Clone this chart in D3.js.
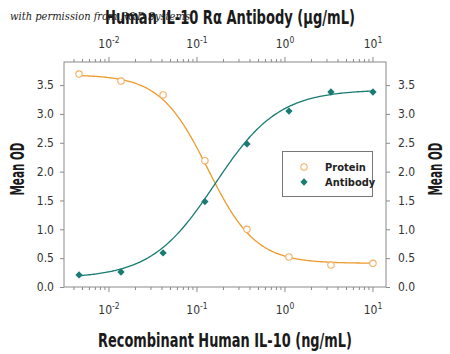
<!DOCTYPE html>
<html>
<head>
<meta charset="utf-8">
<script src="https://cdn.jsdelivr.net/npm/d3@7"></script>
<style>
  body { margin: 0; background: #fff; }
  svg { display: block; }
  text { font-family: "Liberation Sans Narrow", "DejaVu Sans Condensed", "Roboto Condensed", sans-serif; }
</style>
</head>
<body>
<svg id="chart" width="450" height="354"></svg>
<script>
// concentrations (ng/mL on bottom, ug/mL on top -- same tick positions)
const conc = [0.00457, 0.0137, 0.0412, 0.123, 0.370, 1.11, 3.33, 10];
const proteinOD = [3.69, 3.57, 3.33, 2.19, 1.00, 0.52, 0.38, 0.41];
const antibodyOD = [0.21, 0.26, 0.59, 1.48, 2.48, 3.05, 3.38, 3.38];
// 4PL fit: [bottom, top, ec50, hill]
const proteinFit = [0.41, 3.68, 0.133, 1.6];
const antibodyFit = [0.15, 3.42, 0.16, -1.2];
const yTicks = [0, 0.5, 1.0, 1.5, 2.0, 2.5, 3.0, 3.5];
const xTicks = [0.01, 0.1, 1, 10];
const xTickLabels = ["-2", "-1", "0", "1"];
const seriesNames = ["Protein", "Antibody"];

const orange = "#ee9a2c";
const teal = "#1a7b72";

const svg = d3.select("#chart");
const plot = { left: 64, right: 386, top: 62, bottom: 287 };

const x = d3.scaleLog()
  .domain([Math.pow(10, -2.511), Math.pow(10, 1.148)])
  .range([plot.left, plot.right]);
const y = d3.scaleLinear().domain([0, 3.9]).range([plot.bottom, plot.top]);

// minor ticks 1..9 per decade
const minor = [];
for (let e = -3; e <= 1; e++) {
  for (let m = 1; m <= 9; m++) {
    const v = m * Math.pow(10, e);
    if (v >= x.domain()[0] && v <= x.domain()[1]) minor.push(v);
  }
}

const axisColor = "#8a8a8a";
const labColor = "#333";

// frame
svg.append("rect")
  .attr("x", plot.left).attr("y", plot.top)
  .attr("width", plot.right - plot.left).attr("height", plot.bottom - plot.top)
  .attr("fill", "none").attr("stroke", axisColor).attr("stroke-width", 1);

// bottom and top axis ticks
function logAxis(yPos, dir, labelY) {
  const g = svg.append("g");
  g.selectAll("line.minor").data(minor).join("line")
    .attr("x1", d => x(d)).attr("x2", d => x(d))
    .attr("y1", yPos).attr("y2", d => yPos + dir * (xTicks.includes(d) ? 5 : 3))
    .attr("stroke", axisColor);
  const lab = g.selectAll("text").data(xTicks).join("text")
    .attr("x", d => x(d)).attr("y", labelY)
    .attr("text-anchor", "middle")
    .attr("font-size", 12).attr("fill", labColor);
  lab.append("tspan").text("10");
  lab.append("tspan").attr("dy", -5).attr("font-size", 8.5).text((d, i) => xTickLabels[i]);
}
logAxis(plot.bottom, 1, 314);
logAxis(plot.top, -1, 48);

// left and right y axes
const yl = svg.append("g").attr("transform", `translate(${plot.left},0)`)
  .call(d3.axisLeft(y).tickValues(yTicks).tickFormat(d3.format(".1f")).tickSize(4).tickPadding(6));
const yr = svg.append("g").attr("transform", `translate(${plot.right},0)`)
  .call(d3.axisRight(y).tickValues(yTicks).tickFormat(d3.format(".1f")).tickSize(4).tickPadding(8));
[yl, yr].forEach(g => {
  g.select(".domain").remove();
  g.selectAll(".tick line").attr("stroke", axisColor);
  g.selectAll(".tick text").attr("font-size", 12).attr("fill", labColor)
    .style("font-family", "'Liberation Sans Narrow', 'DejaVu Sans Condensed', sans-serif");
});

// fitted curves
function fpl(p, c) {
  return p[0] + (p[1] - p[0]) / (1 + Math.pow(c / p[2], p[3]));
}
const lo = Math.log10(conc[0]), hi = Math.log10(conc[conc.length - 1]);
const grid = d3.range(0, 201).map(i => Math.pow(10, lo + i / 200 * (hi - lo)));
const line = d3.line().x(d => x(d[0])).y(d => y(d[1]));

svg.append("path").datum(grid.map(c => [c, fpl(proteinFit, c)]))
  .attr("d", line).attr("fill", "none").attr("stroke", orange).attr("stroke-width", 1.3);
svg.append("path").datum(grid.map(c => [c, fpl(antibodyFit, c)]))
  .attr("d", line).attr("fill", "none").attr("stroke", teal).attr("stroke-width", 1.3);

// points
const diamond = d3.symbol().type(d3.symbolDiamond2).size(34);
svg.append("g").selectAll("circle").data(conc).join("circle")
  .attr("cx", d => x(d)).attr("cy", (d, i) => y(proteinOD[i]))
  .attr("r", 3.2).attr("fill", "#fff").attr("stroke", "#f3b063").attr("stroke-width", 1.1);
svg.append("g").selectAll("path").data(conc).join("path")
  .attr("d", diamond)
  .attr("transform", (d, i) => `translate(${x(d)},${y(antibodyOD[i])})`)
  .attr("fill", teal);

// legend
const lg = svg.append("g");
lg.append("rect").attr("x", 282.5).attr("y", 151.5).attr("width", 90).attr("height", 45)
  .attr("fill", "#fff").attr("stroke", "#777").attr("stroke-width", 1);
lg.append("circle").attr("cx", 304).attr("cy", 167).attr("r", 3.2)
  .attr("fill", "#fff").attr("stroke", "#f3b063").attr("stroke-width", 1.1);
lg.append("path").attr("d", diamond).attr("transform", "translate(304,182)").attr("fill", teal);
lg.selectAll("text").data(seriesNames).join("text")
  .attr("x", 325).attr("y", (d, i) => 171 + i * 15)
  .attr("font-size", 11).attr("font-weight", "bold").attr("fill", "#222")
  .text(d => d);

// titles
function fitText(sel, w) {
  if (sel.node().getComputedTextLength() > 0)
    sel.attr("textLength", w).attr("lengthAdjust", "spacingAndGlyphs");
}
const t1 = svg.append("text").attr("x", 230).attr("y", 24).attr("text-anchor", "middle")
  .attr("font-size", 19).attr("font-weight", "bold").attr("fill", "#1a1a1a")
  .text("Human IL-10 R\u03b1 Antibody (\u00b5g/mL)");
fitText(t1, 250);
const t2 = svg.append("text").attr("x", 225).attr("y", 347).attr("text-anchor", "middle")
  .attr("font-size", 19).attr("font-weight", "bold").attr("fill", "#1a1a1a")
  .text("Recombinant Human IL-10  (ng/mL)");
fitText(t2, 254);

[24, 442].forEach(px => {
  const t = svg.append("text").attr("transform", `translate(${px},169) rotate(-90)`)
    .attr("text-anchor", "middle").attr("font-size", 19).attr("font-weight", "bold").attr("fill", "#1a1a1a")
    .text("Mean OD");
  fitText(t, 53);
});

// watermark
const wm = svg.append("text").attr("x", 10).attr("y", 20)
  .style("font-family", "'DejaVu Serif', serif").attr("font-style", "italic")
  .attr("font-size", 11).attr("fill", "#222")
  .text("with permission from R&D Systems");
fitText(wm, 180);
</script>
</body>
</html>
